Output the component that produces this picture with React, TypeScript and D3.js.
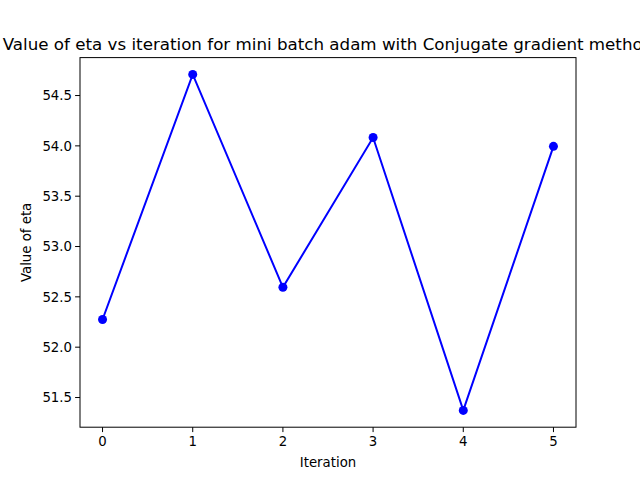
import React from "react";
import * as d3 from "d3";

const iterations = [0, 1, 2, 3, 4, 5];
const etaValues = [52.275, 54.71, 52.595, 54.083, 51.372, 53.995];
const yTicks = [51.5, 52.0, 52.5, 53.0, 53.5, 54.0, 54.5];
const xTicks = [0, 1, 2, 3, 4, 5];

export default function App() {
  const W = 640, H = 480;
  const L = 80, R = 576, T = 57.6, B = 427.2;
  const ymin = d3.min(etaValues)!, ymax = d3.max(etaValues)!;
  const pad = (ymax - ymin) * 0.05;
  const x = d3.scaleLinear().domain([-0.25, 5.25]).range([L, R]);
  const y = d3.scaleLinear().domain([ymin - pad, ymax + pad]).range([B, T]);
  const line = d3.line<number>().x((_, i) => x(iterations[i])).y((d) => y(d));
  const font = "DejaVu Sans, sans-serif";
  return (
    <svg width={W} height={H} style={{ position: "absolute", left: 0, top: 0 }} fontFamily={font}>
      <rect width={W} height={H} fill="#fff" />
      <text x={(L + R) / 2} y={50} textAnchor="middle" fontSize={16.7}>
        Value of eta vs iteration for mini batch adam with Conjugate gradient method
      </text>
      <path d={line(etaValues)!} fill="none" stroke="blue" strokeWidth={2} />
      {etaValues.map((v, i) => (
        <circle key={i} cx={x(iterations[i])} cy={y(v)} r={4.5} fill="blue" />
      ))}
      <rect x={L} y={T} width={R - L} height={B - T} fill="none" stroke="#000" strokeWidth={1} />
      {xTicks.map((t) => (
        <g key={t}>
          <line x1={x(t)} x2={x(t)} y1={B} y2={B + 4.9} stroke="#000" strokeWidth={1} />
          <text x={x(t)} y={B + 19} textAnchor="middle" fontSize={13.3}>{t}</text>
        </g>
      ))}
      {yTicks.map((t) => (
        <g key={t}>
          <line x1={L - 4.9} x2={L} y1={y(t)} y2={y(t)} stroke="#000" strokeWidth={1} />
          <text x={L - 8} y={y(t) + 4.8} textAnchor="end" fontSize={13.3}>{t.toFixed(1)}</text>
        </g>
      ))}
      <text x={(L + R) / 2} y={467} textAnchor="middle" fontSize={13.3}>Iteration</text>
      <text transform={`translate(31,${(T + B) / 2}) rotate(-90)`} textAnchor="middle" fontSize={13.3}>Value of eta</text>
    </svg>
  );
}
